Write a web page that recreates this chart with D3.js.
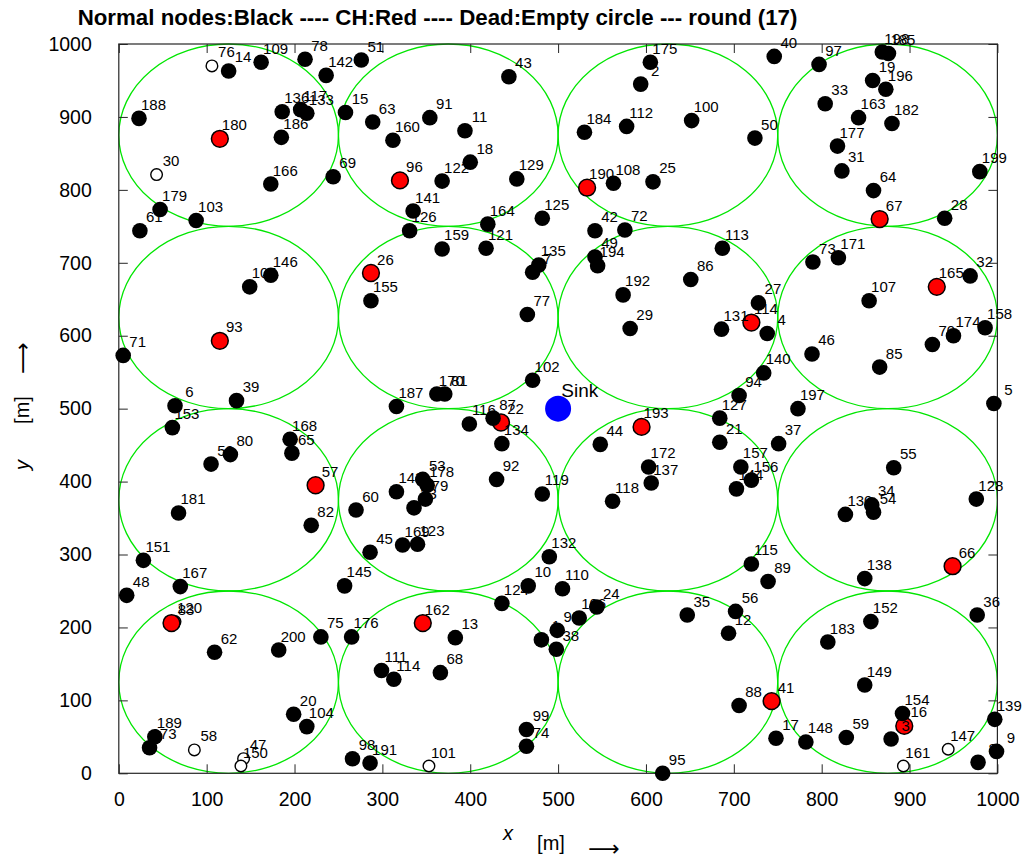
<!DOCTYPE html>
<html>
<head>
<meta charset="utf-8">
<title>Normal nodes, cluster heads and dead nodes - round 17</title>
<script src="https://d3js.org/d3.v7.min.js"></script>
<style>
  body {margin: 0; background: white;}
  text {font-family: Arial, "Liberation Sans", sans-serif; fill: black;}
</style>
</head>
<body>
<svg width="1025" height="863"></svg>
<script>
// axis ticks
var tickValues = [0, 100, 200, 300, 400, 500, 600, 700, 800, 900, 1000];

// 4x4 grid of cells (centre coords, radius in m)
var cellCenters = [125, 375, 625, 875];
var cellRadius = 125;

// [label, x, y]  - dead nodes (empty circles)
var deadNodes = [
  ["30", 43, 821], ["47", 142, 20], ["58", 86, 32], ["76", 106, 970],
  ["101", 353, 10], ["120", 64, 208], ["147", 944, 33], ["150", 139, 10], ["161", 893, 10]
];

// cluster heads (red)
var clusterHeads = [
  ["16", 894, 65], ["22", 435, 481], ["26", 287, 686], ["41", 743, 99], ["57", 224, 395],
  ["66", 949, 284], ["67", 866, 760], ["83", 60, 206], ["93", 115, 593], ["96", 320, 813],
  ["114", 720, 618], ["162", 346, 206], ["165", 931, 667], ["180", 115, 870],
  ["190", 533, 803], ["193", 595, 475]
];

// normal nodes (black), in drawing order
var normalNodes = [
  ["1", 481, 183], ["2", 594, 945], ["3", 879, 47], ["4", 738, 603], ["5", 996, 507],
  ["6", 64, 504], ["7", 471, 687], ["8", 978, 15], ["9", 999, 30], ["11", 394, 881],
  ["12", 694, 192], ["13", 383, 186], ["14", 125, 963], ["15", 258, 906], ["17", 748, 48],
  ["18", 400, 838], ["19", 858, 950], ["20", 199, 81], ["21", 684, 454], ["23", 336, 364],
  ["25", 608, 811], ["27", 728, 645], ["28", 940, 761], ["29", 582, 610], ["31", 823, 826],
  ["32", 969, 682], ["33", 804, 918], ["35", 647, 217], ["36", 977, 217], ["37", 751, 452],
  ["38", 498, 170], ["39", 134, 511], ["40", 746, 983], ["42", 542, 744], ["43", 444, 955],
  ["44", 548, 451], ["45", 286, 303], ["46", 789, 575], ["48", 9, 244], ["49", 542, 708],
  ["50", 724, 871], ["51", 276, 978], ["52", 105, 424], ["53", 346, 403], ["54", 859, 358],
  ["55", 882, 419], ["56", 702, 222], ["59", 828, 49], ["60", 270, 361], ["61", 24, 744],
  ["62", 109, 166], ["63", 289, 893], ["64", 859, 799], ["65", 197, 439], ["68", 366, 138],
  ["69", 244, 818], ["70", 926, 588], ["71", 5, 573], ["72", 576, 745], ["73", 790, 701],
  ["74", 464, 37], ["75", 230, 187], ["77", 465, 629], ["78", 212, 979], ["79", 349, 376],
  ["80", 127, 437], ["81", 371, 520], ["82", 219, 340], ["85", 866, 557], ["86", 651, 677],
  ["87", 426, 487], ["88", 706, 93], ["89", 739, 263], ["90", 499, 196], ["91", 354, 899],
  ["92", 430, 403], ["94", 706, 518], ["95", 619, 0], ["97", 797, 972], ["98", 266, 20],
  ["99", 464, 60], ["100", 652, 895], ["102", 471, 539], ["103", 88, 758], ["104", 214, 64],
  ["105", 149, 667], ["106", 524, 213], ["107", 854, 648], ["108", 563, 809], ["109", 162, 975],
  ["110", 505, 253], ["111", 299, 141], ["112", 578, 887], ["113", 687, 720], ["114", 313, 129],
  ["115", 720, 287], ["116", 399, 479], ["117", 207, 910], ["118", 562, 373], ["119", 482, 383],
  ["121", 418, 720], ["122", 368, 812], ["123", 340, 314], ["124", 436, 233], ["125", 482, 761],
  ["126", 331, 744], ["127", 684, 487], ["128", 976, 376], ["129", 453, 815], ["130", 827, 355],
  ["131", 686, 609], ["132", 490, 297], ["133", 214, 905], ["134", 436, 452], ["135", 478, 697],
  ["136", 186, 907], ["137", 606, 398], ["138", 849, 267], ["139", 997, 74], ["140", 734, 549],
  ["141", 335, 771], ["142", 236, 957], ["143", 316, 386], ["144", 703, 390], ["145", 257, 257],
  ["146", 173, 683], ["148", 782, 43], ["149", 849, 121], ["151", 28, 292], ["152", 856, 208],
  ["153", 61, 474], ["154", 892, 82], ["155", 287, 648], ["157", 708, 420], ["158", 986, 611],
  ["159", 368, 719], ["160", 312, 868], ["163", 842, 899], ["164", 420, 753], ["166", 173, 808],
  ["167", 70, 256], ["168", 195, 458], ["169", 323, 313], ["170", 362, 520], ["171", 819, 707],
  ["172", 603, 420], ["173", 35, 35], ["174", 950, 600], ["175", 605, 975], ["176", 265, 187],
  ["177", 818, 860], ["178", 351, 395], ["179", 47, 773], ["181", 68, 357], ["182", 880, 891],
  ["183", 807, 180], ["184", 530, 879], ["185", 876, 987], ["186", 185, 872], ["187", 316, 503],
  ["188", 23, 898], ["189", 41, 50], ["191", 286, 14], ["192", 574, 656], ["194", 545, 696],
  ["196", 873, 938], ["197", 773, 500], ["198", 869, 989], ["199", 980, 825], ["200", 182, 169],
  ["10", 466, 257], ["24", 544, 228], ["34", 857, 368], ["156", 720, 402]
];

var sinkNode = ["Sink", 500, 500];

var svg = d3.select("svg");

var x = d3.scaleLinear().domain([0, 1000]).range([118.8, 997.4]);
var y = d3.scaleLinear().domain([0, 1000]).range([773.3, 44]);

// title
svg.append("text")
   .attr("x", 437.5).attr("y", 17)
   .attr("text-anchor", "middle")
   .attr("dominant-baseline", "central")
   .style("font-size", "22.3px").style("font-weight", "bold")
   .text("Normal nodes:Black ---- CH:Red ---- Dead:Empty circle --- round (17)");

// cell circles
var cells = [];
cellCenters.forEach(function(cy) {
    cellCenters.forEach(function(cx) { cells.push([cx, cy]); });
});
svg.append("g").selectAll("ellipse")
   .data(cells)
   .enter()
   .append("ellipse")
   .attr("cx", d => x(d[0]))
   .attr("cy", d => y(d[1]))
   .attr("rx", x(cellRadius) - x(0))
   .attr("ry", y(0) - y(cellRadius))
   .style("fill", "none")
   .style("stroke", "#00e600")
   .style("stroke-width", 1.3);

// axes, ticks inside, box all round
var axisColor = "#262626";
function styleAxis(g) {
    g.select(".domain").remove();
    g.selectAll(".tick line").style("stroke", axisColor);
    g.selectAll(".tick text").style("font-size", "19.5px").style("fill", "black")
     .style("font-family", "Arial, 'Liberation Sans', sans-serif");
}
svg.append("g").attr("transform", "translate(0," + y(0) + ")")
   .call(d3.axisBottom(x).tickValues(tickValues).tickSize(-9).tickPadding(19).tickFormat(d3.format("d")))
   .call(styleAxis);
svg.append("g").attr("transform", "translate(" + x(0) + ",0)")
   .call(d3.axisLeft(y).tickValues(tickValues).tickSize(-9).tickPadding(27).tickFormat(d3.format("d")))
   .call(styleAxis);
svg.append("g").attr("transform", "translate(0," + y(1000) + ")")
   .call(d3.axisTop(x).tickValues(tickValues).tickSize(-9).tickFormat(""))
   .call(styleAxis);
svg.append("g").attr("transform", "translate(" + x(1000) + ",0)")
   .call(d3.axisRight(y).tickValues(tickValues).tickSize(-9).tickFormat(""))
   .call(styleAxis);
svg.append("rect")
   .attr("x", x(0)).attr("y", y(1000))
   .attr("width", x(1000) - x(0)).attr("height", y(0) - y(1000))
   .style("fill", "none").style("stroke", axisColor).style("stroke-width", 1.2);

// nodes: each circle followed by its label
function drawNodes(list, r, fill, stroke, sw) {
    var g = svg.append("g");
    list.forEach(function(d) {
        g.append("circle")
         .attr("cx", x(d[1])).attr("cy", y(d[2])).attr("r", r)
         .style("fill", fill).style("stroke", stroke).style("stroke-width", sw);
        g.append("text")
         .attr("x", x(d[1]) + 14.5).attr("y", y(d[2]) - 14)
         .attr("text-anchor", "middle")
         .attr("dominant-baseline", "central")
         .style("font-size", "15px")
         .text(d[0]);
    });
}
drawNodes(deadNodes, 5.8, "white", "black", 1.4);
drawNodes(clusterHeads, 8.4, "red", "black", 1.5);
drawNodes(normalNodes, 7.8, "black", "none", 0);

// sink
svg.append("circle")
   .attr("cx", x(sinkNode[1])).attr("cy", y(sinkNode[2])).attr("r", 13)
   .style("fill", "blue");
svg.append("text")
   .attr("x", x(sinkNode[1]) + 21.7).attr("y", y(sinkNode[2]) - 18)
   .attr("text-anchor", "middle").attr("dominant-baseline", "central")
   .style("font-size", "19px")
   .text(sinkNode[0]);

// axis labels
var xl = svg.append("g");
xl.append("text").attr("x", 508).attr("y", 833).attr("text-anchor", "middle")
  .attr("dominant-baseline", "central").style("font-size", "20px").style("font-style", "italic").text("x");
xl.append("text").attr("x", 551).attr("y", 843).attr("text-anchor", "middle")
  .attr("dominant-baseline", "central").style("font-size", "20px").text("[m]");
xl.append("text").attr("x", 604).attr("y", 848).attr("text-anchor", "middle")
  .attr("dominant-baseline", "central").style("font-size", "22px")
  .style("font-family", "'DejaVu Sans', sans-serif").text("\u27F6");

var yl = svg.append("g");
yl.append("text").attr("transform", "translate(22,465) rotate(-90)").attr("text-anchor", "middle")
  .attr("dominant-baseline", "central").style("font-size", "20px").style("font-style", "italic").text("y");
yl.append("text").attr("transform", "translate(22,410) rotate(-90)").attr("text-anchor", "middle")
  .attr("dominant-baseline", "central").style("font-size", "20px").text("[m]");
yl.append("text").attr("transform", "translate(22,358) rotate(-90)").attr("text-anchor", "middle")
  .attr("dominant-baseline", "central").style("font-size", "22px")
  .style("font-family", "'DejaVu Sans', sans-serif").text("\u27F6");
</script>
</body>
</html>
